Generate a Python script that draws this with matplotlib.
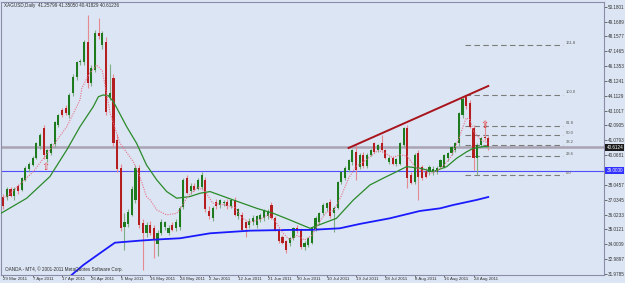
import matplotlib
matplotlib.use('Agg')
import matplotlib.pyplot as plt
import numpy as np

plt.rcParams['font.family'] = ['Liberation Sans', 'DejaVu Sans']

# ---------------- data ----------------
date_labels = ['29 Mar 2011', '7 Apr 2011', '17 Apr 2011', '26 Apr 2011', '5 May 2011',
               '16 May 2011', '24 May 2011', '2 Jun 2011', '12 Jun 2011', '21 Jun 2011',
               '30 Jun 2011', '10 Jul 2011', '19 Jul 2011', '28 Jul 2011', '8 Aug 2011',
               '16 Aug 2011', '24 Aug 2011']
label_bars = [0, 8, 16, 24, 32, 40, 48, 56, 64, 72, 80, 88, 96, 104, 112, 120, 128]

opens = [37.2, 37.2, 37.8, 37.3, 38.0, 37.7, 38.4, 39.1, 39.4, 39.9,
         40.7, 41.9, 39.8, 40.2, 40.8, 42.1, 43.15, 43.3, 42.8, 44.3,
         45.4, 46.4, 46.4, 47.8, 45.0, 45.9, 48.4, 47.6, 47.8, 44.0,
         45.3, 41.1, 39.2, 35.2, 35.4, 36.0, 37.0, 39.2, 35.45, 34.8,
         35.3, 35.1, 34.0, 34.8, 35.2, 34.8, 35.3, 35.1, 35.2, 36.55,
         38.5, 37.6, 38.0, 37.8, 37.9, 38.4, 36.3, 35.8, 36.9, 36.7,
         36.8, 36.9, 36.6, 37.0, 35.9, 36.0, 35.5, 35.3, 35.5, 35.3,
         35.7, 35.8, 35.9, 36.7, 35.8, 35.0, 34.5, 34.2, 34.1, 34.4,
         35.1, 35.0, 33.8, 33.95, 34.1, 35.0, 35.5, 36.1, 36.5, 36.9,
         36.1, 36.5, 38.25, 38.5, 39.06, 39.6, 40.3, 39.27, 40.1, 39.3,
         40.1, 40.9, 40.43, 40.9, 40.43, 39.6, 39.88, 39.5, 39.5, 40.77,
         41.9, 38.7, 38.25, 40.2, 39.29, 39.0, 38.95, 38.9, 38.95, 39.29,
         39.29, 39.86, 40.2, 40.43, 40.88, 42.8, 44.0, 43.6, 41.9, 39.86,
         40.77, 41.3, 41.258]
highs = [37.4, 37.9, 37.9, 37.9, 38.1, 38.6, 39.3, 39.6, 40.0, 41.0,
         41.6, 42.1, 40.5, 40.9, 42.4, 42.9, 43.3, 43.5, 44.3, 45.6,
         46.5, 46.6, 47.9, 49.6, 46.2, 48.6, 49.4, 48.5, 48.1, 46.3,
         45.6, 41.5, 39.5, 36.1, 36.4, 38.0, 39.4, 39.4, 35.7, 35.5,
         35.6, 35.3, 35.0, 35.7, 35.6, 35.3, 35.5, 35.7, 36.6, 38.5,
         38.7, 38.2, 38.2, 38.5, 38.9, 38.6, 36.6, 36.6, 37.1, 37.1,
         37.0, 37.1, 37.1, 37.2, 36.5, 36.2, 35.6, 35.8, 36.0, 36.0,
         36.1, 36.4, 36.4, 36.9, 35.9, 35.1, 34.6, 34.3, 34.5, 35.2,
         35.3, 35.1, 34.2, 34.5, 35.2, 35.9, 36.2, 36.8, 36.9, 37.1,
         36.6, 38.3, 39.0, 39.3, 39.8, 40.5, 40.77, 40.2, 40.3, 40.2,
         40.5, 40.99, 40.85, 41.45, 40.5, 40.0, 40.0, 39.9, 41.0, 42.0,
         42.1, 38.9, 40.2, 40.4, 39.4, 39.2, 39.4, 39.3, 39.3, 39.8,
         40.15, 40.3, 40.7, 40.95, 43.0, 44.0, 44.17, 43.8, 42.1, 40.9,
         41.3, 42.35, 41.3505]
lows = [36.4, 37.0, 37.2, 37.0, 37.4, 37.6, 38.3, 38.9, 39.3, 39.8,
        40.5, 39.8, 39.6, 40.1, 40.6, 42.0, 42.7, 42.8, 42.6, 44.1,
        45.2, 46.2, 46.2, 44.65, 44.8, 45.7, 48.0, 47.3, 42.8, 43.8,
        40.6, 38.9, 34.9, 33.6, 35.2, 35.9, 36.8, 35.1, 32.25, 34.5,
        34.6, 33.07, 33.2, 34.6, 35.0, 34.6, 34.9, 34.9, 35.0, 36.4,
        37.4, 37.4, 37.6, 37.7, 37.8, 36.2, 35.7, 35.6, 36.4, 36.5,
        36.6, 36.4, 36.5, 35.9, 35.7, 34.9, 34.5, 35.1, 35.3, 35.1,
        35.5, 35.6, 35.7, 35.7, 34.9, 34.1, 34.0, 33.4, 33.9, 34.3,
        34.8, 33.7, 33.6, 33.8, 34.0, 34.9, 35.4, 36.0, 36.3, 35.8,
        34.86, 36.4, 38.1, 38.4, 38.9, 39.4, 38.38, 39.1, 39.2, 39.2,
        40.0, 40.2, 40.3, 40.35, 39.8, 39.5, 39.4, 39.3, 39.4, 40.6,
        37.84, 38.1, 38.1, 37.02, 38.4, 38.5, 38.7, 38.7, 38.8, 39.2,
        39.2, 39.7, 40.1, 40.3, 40.7, 42.6, 43.2, 41.9, 39.06, 38.7,
        40.6, 41.1, 40.418]
closes = [36.6, 37.8, 37.3, 37.8, 37.6, 38.5, 39.2, 39.5, 39.85, 40.9,
          41.45, 40.1, 40.4, 40.8, 42.3, 42.8, 42.8, 42.95, 44.15, 45.4,
          46.4, 46.5, 47.8, 45.0, 46.0, 48.4, 48.2, 48.4, 43.0, 44.3,
          40.9, 39.1, 35.1, 35.5, 36.2, 37.8, 39.2, 35.3, 34.8, 35.3,
          34.8, 34.3, 34.8, 35.5, 35.5, 35.1, 35.0, 35.5, 36.5, 38.38,
          37.5, 38.0, 37.7, 38.4, 38.7, 36.4, 35.9, 36.5, 36.6, 37.0,
          36.9, 36.6, 37.0, 36.0, 36.4, 35.0, 35.1, 35.6, 35.8, 35.9,
          36.0, 36.3, 36.3, 35.8, 35.0, 34.2, 34.1, 33.6, 34.4, 35.1,
          34.9, 33.8, 34.1, 34.4, 35.1, 35.8, 36.1, 36.7, 36.8, 35.9,
          36.5, 38.25, 38.9, 39.2, 39.75, 40.43, 39.06, 40.1, 39.3, 40.1,
          40.43, 40.3, 40.77, 40.43, 39.88, 39.9, 39.5, 39.8, 40.9, 41.9,
          38.5, 38.2, 40.1, 38.61, 38.5, 38.6, 39.29, 39.15, 39.17, 39.74,
          40.08, 40.2, 40.65, 40.88, 42.92, 43.9, 43.4, 42.0, 39.86, 40.77,
          41.22, 41.25, 40.612]

# moving averages: (bar, value)
fast_ma_bars = [0, 1, 8.2, 12.7, 17.3, 20.9, 21.4, 23.2, 25.4, 27, 29.1, 31.8, 35.4, 37.2,
                39.0, 40.0, 41.8, 44.5, 47.2, 48.6, 50, 53, 55, 57, 60, 63, 65, 67, 70,
                72, 74, 76, 78, 80, 82, 84, 86, 88, 90, 92, 94, 96, 98, 100, 102, 104,
                106, 108, 110, 112, 114, 116, 118, 120, 122, 124, 126, 127, 128, 130, 132]
fast_ma_vals = [37.2, 37.24, 38.95, 40.43, 42.01, 43.83, 44.63, 45.53, 46.21, 45.8, 42.92,
                40.88, 39.63, 38.61, 37.24, 37.02, 36.34, 36.0, 36.11, 36.56, 37.2, 37.9,
                37.6, 36.8, 36.7, 36.5, 35.8, 35.5, 35.7, 36.0, 35.6, 34.8, 34.3, 34.6,
                34.3, 34.6, 35.5, 36.2, 36.3, 37.3, 38.5, 39.3, 39.6, 40.0, 40.4, 40.2,
                39.9, 40.1, 40.0, 39.3, 39.0, 38.8, 39.0, 39.4, 40.0, 41.2, 42.6, 42.5,
                41.7, 41.1, 40.9]
mid_ma_bars = [-0.9, 6.4, 12.7, 17.3, 20.9, 24.5, 25.9, 27.2, 28.6, 30.0, 33.6, 36.3, 39.0,
               41.8, 44.5, 47.2, 50.8, 53.6, 56.3, 62.6, 69.0, 73.5, 78.0, 83.5, 87.1,
               90.7, 95.3, 99.8, 103.4, 107.1, 109.8, 113.4, 117.0, 120.7, 123.4, 126.2,
               128.0, 130.6, 132]
mid_ma_vals = [36.07, 37.14, 38.61, 40.43, 42.01, 43.37, 44.05, 44.17, 44.12, 43.71, 42.01,
               40.88, 39.40, 38.38, 37.59, 37.14, 37.25, 37.48, 37.59, 37.02, 36.45, 36.11,
               35.66, 35.09, 35.43, 35.77, 37.02, 38.04, 38.50, 38.95, 39.29, 39.18, 38.95,
               39.29, 39.86, 40.31, 40.54, 40.65, 40.65]
slow_ma_bars = [16.5, 18.6, 21.8, 26.3, 30.4, 37.2, 42.7, 48.1, 56.3, 67.2, 78.0, 83.5,
                91.6, 97.1, 105.2, 113.4, 118.9, 122.5, 128.8, 132]
slow_ma_vals = [31.4, 31.91, 32.59, 33.39, 34.11, 34.25, 34.34, 34.41, 34.75, 34.93, 34.98,
                34.98, 35.09, 35.39, 35.77, 36.27, 36.45, 36.68, 37.02, 37.22]

bid_price = 40.612
bid_label = '40.6124'
hline_price = 39.0
hline_label = '39.0000'
trend_bars = [94, 132]
trend_vals = [40.56, 44.78]
fib_low, fib_high = 38.70, 44.17
fib_start, fib_end = 125.7, 152.4
fib_ratios = [0.0, 23.6, 38.2, 50.0, 61.8, 100.0, 161.8]
arrow_bars = [11.4, 130.9]
arrow_vals = [39.27, 42.15]
ytick_vals = [31.9785, 32.9897, 34.0009, 35.0121, 36.0233, 37.0345, 38.0457, 39.0569,
              40.0681, 41.0793, 42.0905, 43.1017, 44.1129, 45.1241, 46.1353, 47.1465,
              48.1577, 49.1689, 50.1801]
header = 'XAGUSD,Daily  41.25799 41.35050 40.41829 40.61236'
footer = 'OANDA - MT4, \u00a9 2001-2011 MetaQuotes Software Corp.'

# ---------------- drawing ----------------
BG = '#dce5f3'
W, H = 625, 283
fig = plt.figure(figsize=(W / 100, H / 100), dpi=100)
fig.patch.set_facecolor(BG)
ax = fig.add_axes([1 / W, 1 - 275 / H, 603 / W, 273 / H])
ax.set_facecolor(BG)
ax.set_xlim(-0.6, 163.5)
ax.set_ylim(31.91, 50.50)

O = np.array(opens); Hh = np.array(highs); L = np.array(lows); C = np.array(closes)
idx = np.arange(len(O))
up = C >= O
green_body, red_body = '#1d7a1d', '#b51e1e'
green_wick, red_wick = '#7fae86', '#e58a92'

ax.axhline(bid_price, color='#a9a3b3', lw=1.8, zorder=1)
ax.axhline(hline_price, color='#4f4fff', lw=0.8, zorder=1)

ax.vlines(idx[up], L[up], Hh[up], color=green_wick, lw=0.8, zorder=3)
ax.vlines(idx[~up], L[~up], Hh[~up], color=red_wick, lw=0.8, zorder=3)
heights = np.maximum(np.abs(C - O), 0.04)
ax.bar(idx, heights, bottom=np.minimum(O, C), width=0.58,
       color=np.where(up, green_body, red_body), linewidth=0, zorder=4)

ax.plot(slow_ma_bars, slow_ma_vals, color='#1a1aff', lw=1.3, zorder=5)
ax.plot(mid_ma_bars, mid_ma_vals, color='#2a8a2a', lw=0.9, zorder=5)
ax.plot(fast_ma_bars, fast_ma_vals, color='#e8708a', lw=0.8, ls=(0, (1, 1.2)), zorder=5)

ax.plot(trend_bars, trend_vals, color='#a8141c', lw=1.4, zorder=6)

for r in fib_ratios:
    lvl = fib_low + r / 100.0 * (fib_high - fib_low)
    ax.hlines(lvl, fib_start, fib_end, color='#7c7c7c', lw=0.8,
              linestyles=(0, (5, 3)), zorder=2)
    ax.text(fib_end + 0.8, lvl + 0.04, f'{r:.1f}', fontsize=3.0, color='#555555',
            va='bottom', ha='left', zorder=6)

for bx, by in zip(arrow_bars, arrow_vals):
    ax.text(bx, by, '\u21e7', color='#e03a3a', fontsize=7, ha='center', va='center',
            family='DejaVu Sans', zorder=7)

# axes styling
for side in ['top', 'bottom', 'left', 'right']:
    ax.spines[side].set_color('#8c8caa')
    ax.spines[side].set_linewidth(0.8)
ax.yaxis.tick_right()
ax.set_yticks(ytick_vals)
ylabels = [f'{v:.4f}' for v in ytick_vals]
# tick label hidden behind the line's price box in the reference
ylabels[ytick_vals.index(39.0569)] = ''
ax.set_yticklabels(ylabels)
ax.tick_params(axis='y', labelsize=3.3, length=2, width=0.6, color='#555555',
               labelcolor='#333333', pad=1.0)
ax.set_xticks(label_bars)
ax.set_xticklabels(date_labels, ha='left')
ax.tick_params(axis='x', labelsize=3.2, length=1.2, width=0.6, color='#555555',
               labelcolor='#333333', pad=0.4)

ytr = ax.get_yaxis_transform()
ax.text(1.004, bid_price, bid_label, transform=ytr, fontsize=3.3, color='white',
        va='center', ha='left', clip_on=False, zorder=10,
        bbox=dict(boxstyle='square,pad=0.2', fc='#1a1a1a', ec='none'))
ax.text(1.004, hline_price, hline_label, transform=ytr, fontsize=3.3, color='white',
        va='center', ha='left', clip_on=False, zorder=10,
        bbox=dict(boxstyle='square,pad=0.2', fc='#3030ff', ec='none'))

fig.text(4 / W, 1 - 6 / H, header, fontsize=3.3, color='#303030', va='center', ha='left')
fig.text(5 / W, 1 - 269 / H, footer, fontsize=3.3, color='#303030', va='center', ha='left')

fig.savefig('out.png', dpi=100, facecolor=BG)
